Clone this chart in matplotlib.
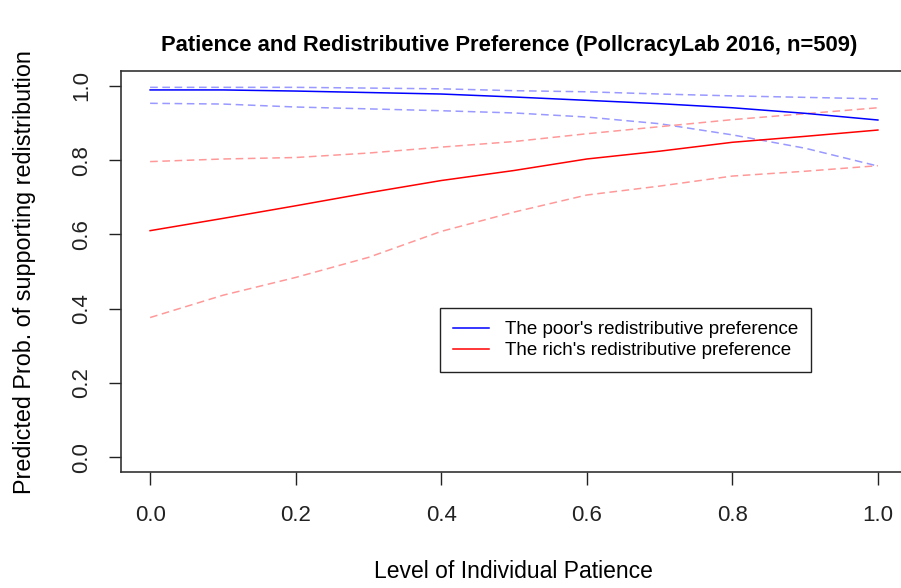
import matplotlib
matplotlib.use("Agg")
import matplotlib.pyplot as plt

plt.rcParams['font.family'] = ['Liberation Sans', 'DejaVu Sans']

# predicted probabilities over patience, with 95% bounds
patience = [0.0, 0.1, 0.2, 0.3, 0.4, 0.5, 0.6, 0.7, 0.8, 0.9, 1.0]
poor_fit = [0.989, 0.989, 0.986, 0.982, 0.978, 0.970, 0.961, 0.952, 0.941, 0.926, 0.908]
poor_upper = [0.996, 0.996, 0.996, 0.994, 0.992, 0.987, 0.984, 0.978, 0.973, 0.969, 0.965]
poor_lower = [0.953, 0.951, 0.943, 0.938, 0.933, 0.927, 0.916, 0.898, 0.868, 0.832, 0.784]
rich_fit = [0.610, 0.643, 0.677, 0.712, 0.745, 0.772, 0.803, 0.824, 0.848, 0.864, 0.881]
rich_upper = [0.796, 0.803, 0.807, 0.819, 0.835, 0.850, 0.871, 0.890, 0.909, 0.925, 0.941]
rich_lower = [0.376, 0.436, 0.484, 0.538, 0.608, 0.660, 0.706, 0.730, 0.757, 0.770, 0.785]

fig = plt.figure(figsize=(9.01, 5.88), dpi=100)
ax = fig.add_axes([121 / 901, 1 - 472 / 588, 786 / 901, 401 / 588])

dash = (5, 3)
ax.plot(patience, poor_upper, color='#9999ff', lw=1.1, dashes=dash)
ax.plot(patience, poor_lower, color='#9999ff', lw=1.1, dashes=dash)
ax.plot(patience, rich_upper, color='#ff9999', lw=1.1, dashes=dash)
ax.plot(patience, rich_lower, color='#ff9999', lw=1.1, dashes=dash)
l1, = ax.plot(patience, poor_fit, color='#0000ff', lw=1.1)
l2, = ax.plot(patience, rich_fit, color='#ff0000', lw=1.1)

ax.set_xlim(-0.04, 1.04)
ax.set_ylim(-0.04, 1.04)
ax.set_xticks([0.0, 0.2, 0.4, 0.6, 0.8, 1.0])
ax.set_yticks([0.0, 0.2, 0.4, 0.6, 0.8, 1.0])
ax.set_xticklabels(['0.0', '0.2', '0.4', '0.6', '0.8', '1.0'])
ax.set_yticklabels(['0.0', '0.2', '0.4', '0.6', '0.8', '1.0'], rotation=90, va='center')
ax.tick_params(length=9, width=1, labelsize=16, colors='#222222', pad=15)
ax.tick_params(axis='y', pad=12)
for s in ax.spines.values():
    s.set_linewidth(1.2)
    s.set_color('#333333')

fig.text(509 / 901, 1 - 45 / 588, 'Patience and Redistributive Preference (PollcracyLab 2016, n=509)',
         ha='center', va='center', fontsize=15.8, fontweight='bold')
fig.text(513 / 901, 1 - 572 / 588, 'Level of Individual Patience',
         ha='center', va='center', fontsize=16.5)
fig.text(25 / 901, 1 - 272 / 588, 'Predicted Prob. of supporting redistribution',
         ha='center', va='center', fontsize=16.8, rotation=90)

ax.legend([l1, l2], ["The poor's redistributive preference", "The rich's redistributive preference"],
          loc='upper left', bbox_to_anchor=(440 / 901, 1 - 308 / 588), bbox_transform=fig.transFigure,
          borderaxespad=0, fancybox=False, edgecolor='#222222', framealpha=1,
          fontsize=13.5, handlelength=1.9, handletextpad=0.85, labelspacing=0.2,
          borderpad=0.7)
ax.get_legend().get_frame().set_linewidth(1.0)

fig.savefig('out.png', dpi=100)
